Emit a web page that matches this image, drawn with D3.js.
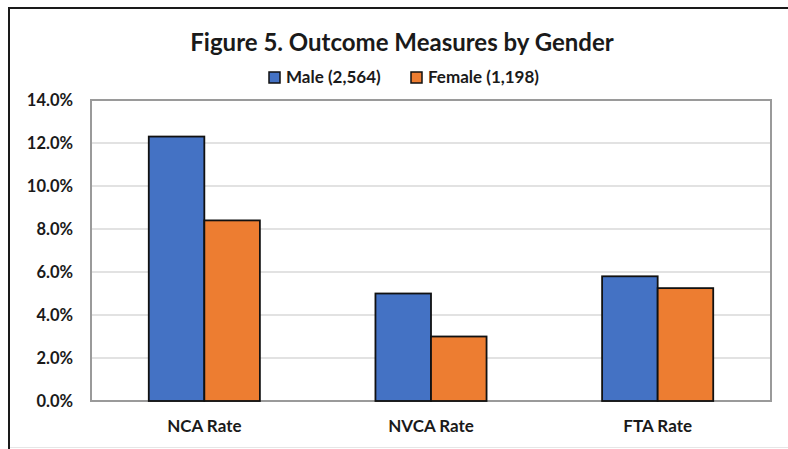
<!DOCTYPE html>
<meta charset="utf-8">
<html>
<script src="https://d3js.org/d3.v7.min.js"></script>
<style>
  body { margin: 0; background: #fff; }
  text { font-family: Lato, "Open Sans", sans-serif; font-weight: bold; fill: #1a1a1a; }
</style>
<div id="chart"></div>
<script>

// data
var categories = ["NCA Rate", "NVCA Rate", "FTA Rate"];
var seriesNames = ["Male (2,564)", "Female (1,198)"];
var maleValues = [12.3, 5.0, 5.8];
var femaleValues = [8.4, 3.0, 5.25];
var yTicks = [0, 2, 4, 6, 8, 10, 12, 14];

var width = 788,
    height = 449;
var margin = {top: 100, right: 17, bottom: 48, left: 91};

var colors = ["#4472C4", "#ED7D31"];

var svg = d3.select("#chart")
  .append("svg")
    .attr("width", width)
    .attr("height", height);

// outer frame of the picture
svg.append("rect")
  .attr("x", 9).attr("y", 8)
  .attr("width", width + 10).attr("height", height + 10)
  .attr("fill", "none")
  .attr("stroke", "#1a1a1a")
  .attr("stroke-width", 2);

svg.append("line")
  .attr("x1", 10).attr("x2", width)
  .attr("y1", 447.5).attr("y2", 447.5)
  .attr("stroke", "#e6e6e6");

var x0 = d3.scaleBand()
  .domain(categories)
  .range([margin.left, width - margin.right])
  .paddingInner(0)
  .paddingOuter(0);

var x1 = d3.scaleBand()
  .domain([0, 1])
  .range([0, x0.bandwidth()])
  .paddingOuter(1.04)
  .paddingInner(0);

var y = d3.scaleLinear()
  .domain([0, 14])
  .range([height - margin.bottom, margin.top]);

// gridlines
svg.append("g")
  .selectAll("line")
  .data(yTicks.slice(1, -1))
  .enter().append("line")
    .attr("x1", margin.left).attr("x2", width - margin.right)
    .attr("y1", function(d) { return y(d); })
    .attr("y2", function(d) { return y(d); })
    .attr("stroke", "#d9d9d9")
    .attr("stroke-width", 1.5);

// plot area border
svg.append("rect")
  .attr("x", margin.left).attr("y", y(14))
  .attr("width", width - margin.right - margin.left)
  .attr("height", y(0) - y(14))
  .attr("fill", "none")
  .attr("stroke", "#9a9a9a")
  .attr("stroke-width", 2);

// bars
var rows = categories.map(function(c, i) { return {cat: c, vals: [maleValues[i], femaleValues[i]]}; });

var groups = svg.append("g")
  .selectAll("g")
  .data(rows)
  .enter().append("g")
    .attr("transform", function(d) { return "translate(" + x0(d.cat) + ",0)"; });

groups.selectAll("rect")
  .data(function(d) { return d.vals.map(function(v, j) { return {v: v, j: j}; }); })
  .enter().append("rect")
    .attr("x", function(d) { return x1(d.j); })
    .attr("y", function(d) { return y(d.v); })
    .attr("width", x1.bandwidth())
    .attr("height", function(d) { return y(0) - y(d.v); })
    .attr("fill", function(d) { return colors[d.j]; })
    .attr("stroke", "#111")
    .attr("stroke-width", 1.8);

// y axis labels
var yAxis = d3.axisLeft(y)
  .tickValues(yTicks)
  .tickSize(0)
  .tickPadding(18)
  .tickFormat(function(d) { return d.toFixed(1) + "%"; });

svg.append("g")
  .attr("transform", "translate(" + margin.left + ",0)")
  .call(yAxis)
  .call(function(g) { g.select(".domain").remove(); })
  .selectAll("text")
    .style("font-size", "16.5px")
    .attr("fill", "#1a1a1a");

// x axis labels
var xAxis = d3.axisBottom(x0).tickSize(0).tickPadding(19);
svg.append("g")
  .attr("transform", "translate(0," + y(0) + ")")
  .call(xAxis)
  .call(function(g) { g.select(".domain").remove(); })
  .selectAll("text")
    .style("font-size", "17px")
    .attr("fill", "#1a1a1a");

// title
svg.append("text")
  .attr("x", 402)
  .attr("y", 51)
  .attr("text-anchor", "middle")
  .style("font-size", "24px")
  .text("Figure 5. Outcome Measures by Gender");

// legend
var legendX = [269, 411];
var legend = svg.selectAll(".legend")
  .data(seriesNames)
  .enter().append("g")
    .attr("class", "legend")
    .attr("transform", function(d, i) { return "translate(" + legendX[i] + ",72)"; });

legend.append("rect")
  .attr("width", 11).attr("height", 11)
  .attr("fill", function(d, i) { return colors[i]; })
  .attr("stroke", "#111")
  .attr("stroke-width", 1.5);

legend.append("text")
  .attr("x", 17)
  .attr("y", 11)
  .style("font-size", "17px")
  .text(function(d) { return d; });

</script>
</html>
